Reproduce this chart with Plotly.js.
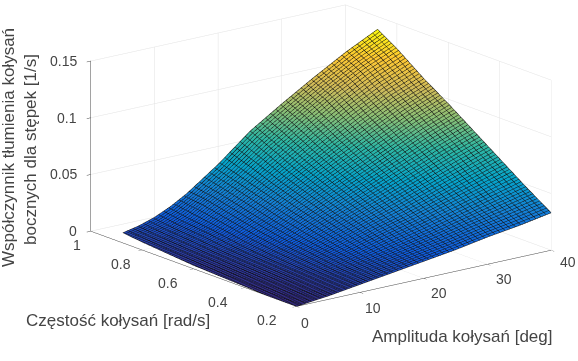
<!DOCTYPE html>
<html><head><meta charset="utf-8">
<script src="https://cdn.plot.ly/plotly-3.0.1.min.js"></script>
<style>html,body{margin:0;padding:0;background:#fff}#c{width:578px;height:361px}</style>
</head><body><div id="c"></div>
<script>
const amplitude = [0,2.5,5,7.5,10,12.5,15,20,25,30,35,40];
const frequency = [0.2,0.3,0.4,0.5,0.6,0.7,0.8,0.876];
const damping = [
 [0,.0015,.003,.005,.007,.009,.011,.015,.019,.024,.028,.033],
 [0,.002,.004,.0065,.009,.012,.015,.021,.027,.034,.041,.048],
 [.001,.003,.005,.008,.012,.016,.020,.029,.037,.046,.055,.064],
 [.002,.004,.007,.010,.015,.020,.026,.037,.048,.059,.070,.080],
 [.003,.006,.009,.013,.019,.025,.032,.046,.059,.072,.085,.096],
 [.005,.008,.012,.017,.024,.031,.039,.055,.071,.086,.100,.111],
 [.007,.010,.014,.020,.029,.037,.046,.066,.084,.101,.116,.128],
 [.009,.012,.0165,.023,.031,.041,.051,.074,.092,.109,.125,.139]
];
const xTicks = [0,10,20,30,40];
const yTicks = [0.2,0.4,0.6,0.8,1];
const zTicks = [0,0.05,0.1,0.15];
const zTickText = ['0','0.05','0.1','0.15'];
const parula = [[0,'#352a87'],[0.125,'#0f5cdd'],[0.25,'#1481d6'],[0.375,'#06a4ca'],[0.5,'#2eb7a4'],[0.625,'#87bf77'],[0.75,'#d1bb59'],[0.875,'#fec832'],[1,'#f9fb0e']];
const axisCommon = {showline:true, linecolor:'#444', linewidth:1, gridcolor:'#e2e2e2', gridwidth:1, ticks:'outside', ticklen:5, tickcolor:'#444', showticklabels:false, zeroline:false, showbackground:false, showspikes:false, title:{text:''}};
const trace = {type:'surface', x:amplitude, y:frequency, z:damping, colorscale:parula, cmin:0, cmax:0.14, showscale:false,
 lighting:{ambient:1,diffuse:0,specular:0,roughness:1,fresnel:0},
 contours:{
  x:{show:true,start:0,end:40.01,size:0.8,color:'#111',width:1,highlight:false},
  y:{show:true,start:0.2,end:0.88,size:0.009,color:'#111',width:1,highlight:false},
  z:{highlight:false}
 }};
const tickFont = {family:'Liberation Sans',size:14,color:'#444'};
const xLabelDx = [9,13,15,16,17], xLabelDy = [-17,-16,-15,-15,-12];
const yLabelDx = [-29,-27,-26,-21,-14];
const tickLabels = [];
xTicks.forEach((v,i)=>tickLabels.push({x:v,y:0.2,z:0,text:String(v),xshift:xLabelDx[i],yshift:xLabelDy[i]}));
yTicks.forEach((v,i)=>tickLabels.push({x:0,y:v,z:0,text:String(v),xshift:yLabelDx[i],yshift:-14}));
zTicks.forEach((v,i)=>tickLabels.push({x:0,y:1,z:v,text:zTickText[i],xshift:-12,yshift:0,xanchor:'right'}));
const layout = {width:578,height:361,margin:{l:0,r:0,t:0,b:0},paper_bgcolor:'#fff',showlegend:false,
 scene:{domain:{x:[0,1],y:[0,1]},
  aspectmode:'manual',aspectratio:{x:1.787,y:1.858,z:0.983},
  camera:{projection:{type:'orthographic'},eye:{x:-1.344,y:-1.442,z:0.438},center:{x:-0.164,y:0.0776,z:-0.132},up:{x:0,y:0,z:1}},
  xaxis:Object.assign({},axisCommon,{range:[0,40],tickvals:xTicks}),
  yaxis:Object.assign({},axisCommon,{range:[0.2,1],tickvals:yTicks}),
  zaxis:Object.assign({},axisCommon,{range:[0,0.15],tickvals:zTicks}),
  annotations:tickLabels.map(a=>Object.assign({showarrow:false,font:tickFont},a))
 },
 annotations:[
  {text:'Współczynnik tłumienia kołysań',x:8/578,y:1-148/361,textangle:-90},
  {text:'bocznych dla stępek [1/s]',x:30/578,y:1-150/361,textangle:-90},
  {text:'Częstość kołysań [rad/s]',x:118/578,y:1-320/361},
  {text:'Amplituda kołysań [deg]',x:462/578,y:1-336/361}
 ].map(a=>Object.assign(a,{xref:'paper',yref:'paper',xanchor:'center',yanchor:'middle',showarrow:false,font:{family:'Liberation Sans',size:17,color:'#444'}}))
};
Plotly.newPlot('c',[trace],layout,{displayModeBar:false});
</script></body></html>
